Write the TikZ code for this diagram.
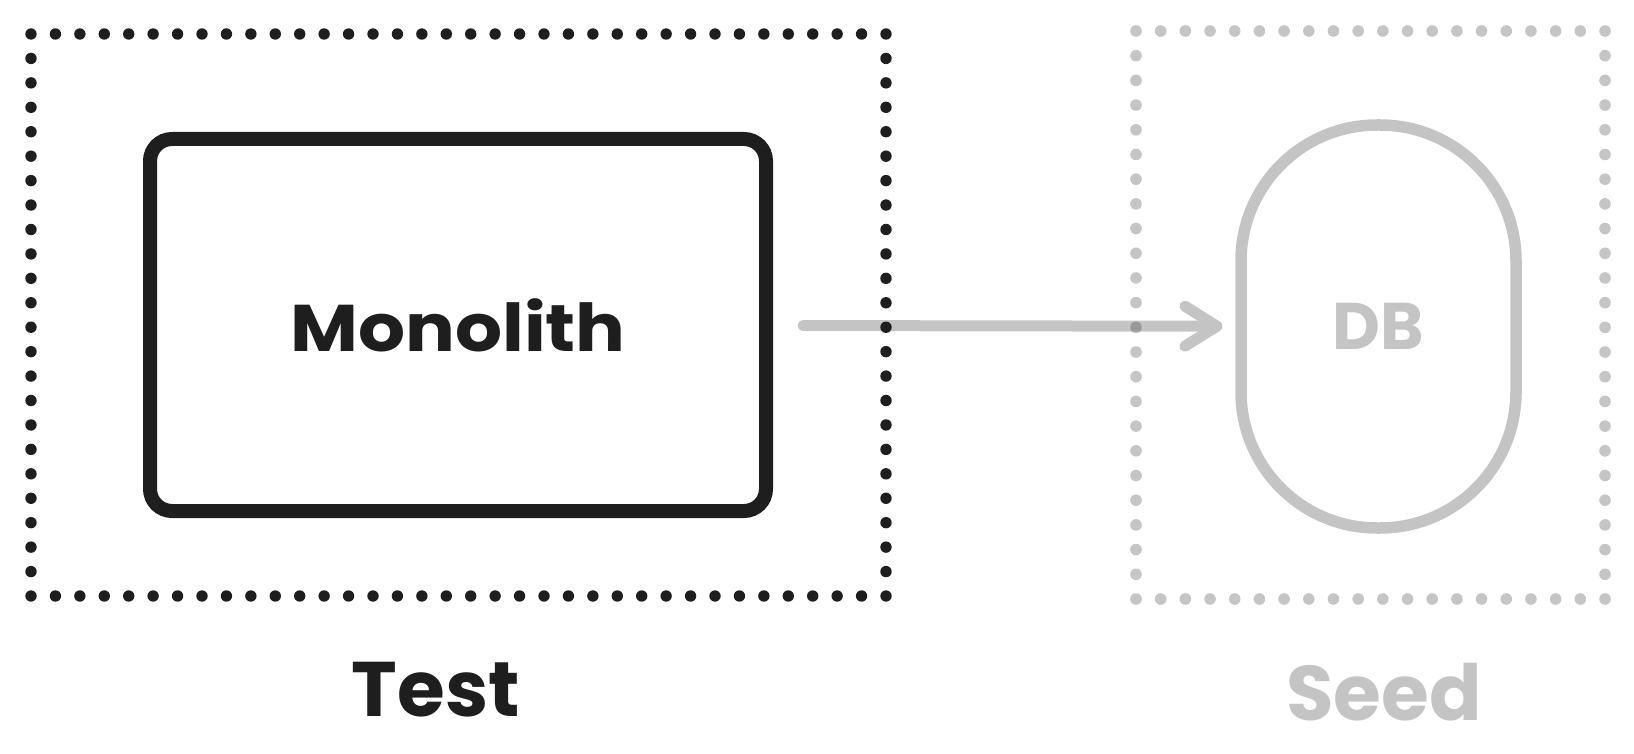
\documentclass[tikz,border=0pt]{standalone}
\usepackage{fontspec}
\usepackage{graphicx}
\setmainfont{Poppins}
\usetikzlibrary{arrows.meta}
\definecolor{ink}{HTML}{1E1E1E}
\definecolor{faint}{HTML}{C4C4C4}
\tikzset{
  inkdot/.style={fill=ink},
  faintdot/.style={fill=ink, fill opacity=0.26},
  bigtext/.style={font=\fontsize{38.7pt}{44pt}\selectfont\bfseries},
  midtext/.style={font=\fontsize{33pt}{40pt}\selectfont\bfseries},
}
\begin{document}
\begin{tikzpicture}[x=0.5pt,y=-0.5pt]
\useasboundingbox (0,0) rectangle (1634,754);
% Monolith box
\node[draw=ink, line width=7pt, rounded corners=11pt, minimum width=308pt,
      minimum height=186pt, inner sep=0pt, text=ink, midtext] (mono) at (458,325) {\scalebox{1.12}[1]{Monolith}};
% DB stadium
\node[draw=faint, line width=5.75pt, rounded corners=68pt, minimum width=137.5pt,
      minimum height=201.5pt, inner sep=0pt, text=faint, midtext] (db) at (1378.5,326.5) {DB};
% arrow
\draw[faint, line width=5.5pt, line cap=round, shorten <=15pt, shorten >=6.4pt,
      -{Straight Barb[length=16pt, width=20pt, line cap=round, line join=round]}] (mono) -- (db);
% left dotted frame
\foreach \i in {0,...,35} {
  \fill[inkdot] (31+\i*24.4286,34) circle (2.85pt);
  \fill[inkdot] (31+\i*24.4286,596) circle (2.85pt);
}
\foreach \j in {1,...,22} {
  \fill[inkdot] (31,34+\j*24.4348) circle (2.85pt);
  \fill[inkdot] (886,34+\j*24.4348) circle (2.85pt);
}
% right dotted frame
\foreach \i in {0,...,19} {
  \fill[faintdot] (1136+\i*24.684,31) circle (2.9pt);
  \fill[faintdot] (1136+\i*24.684,599) circle (2.9pt);
}
\foreach \j in {1,...,22} {
  \fill[faintdot] (1136,31+\j*24.696) circle (2.9pt);
  \fill[faintdot] (1605,31+\j*24.696) circle (2.9pt);
}
% labels
\node[text=ink, bigtext, inner sep=0pt] (test) at (436,690) {Test};
\node[text=faint, bigtext, inner sep=0pt] (seed) at (1384,692) {Seed};
\end{tikzpicture}
\end{document}
